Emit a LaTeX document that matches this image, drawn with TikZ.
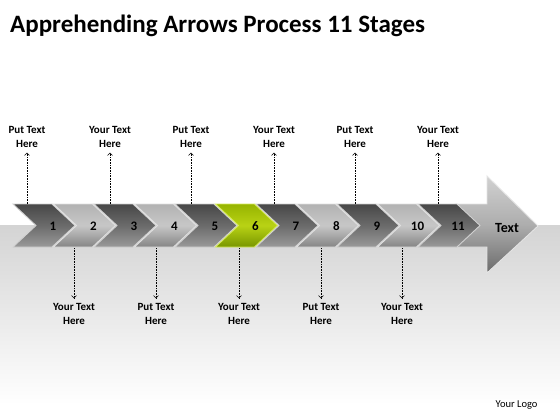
\documentclass[tikz,border=0pt]{standalone}
\usepackage{fontspec}
\setmainfont{Carlito}
\usetikzlibrary{arrows.meta, positioning}

\tikzset{
  darkchev/.style={top color=black!72, bottom color=black!40, middle color=black!58, draw=black!18, line width=0.9pt},
  lightchev/.style={top color=black!30, bottom color=black!48, middle color=black!22, draw=black!12, line width=0.9pt},
  greenchev/.style={top color={rgb,255:red,150;green,180;blue,0}, bottom color={rgb,255:red,120;green,150;blue,0}, middle color={rgb,255:red,185;green,210;blue,20}, draw={rgb,255:red,215;green,235;blue,90}, line width=0.9pt},
  num/.style={font=\bfseries\fontsize{13}{13}\selectfont, inner sep=1pt},
  lbl/.style={font=\bfseries\fontsize{11}{13.5}\selectfont, align=center, inner sep=5pt},
  callout/.style={densely dotted, line width=0.6pt, -{Straight Barb[length=2.5pt,width=5pt]}}
}

\begin{document}
\begin{tikzpicture}[x=1pt, y=-1pt]
\useasboundingbox (0,0) rectangle (560,420);
\fill[white] (0,0) rectangle (560,420);
\shade[top color=black!17, bottom color=white] (0,225) rectangle (560,405);
\node[anchor=west, font=\bfseries\fontsize{25}{25}\selectfont, inner sep=0pt] (title) at (10,26) {Apprehending Arrows Process 11 Stages};
\draw[top color=black!18, bottom color=black!58, middle color=black!32, draw=black!10, line width=0.9pt] (455,204) -- (487,204) -- (487,176) -- (538,226) -- (487,273) -- (487,247) -- (455,247) -- cycle;
\node[font=\bfseries\fontsize{14}{14}\selectfont] (arrowtxt) at (507,228) {Text};
\foreach \i/\sty in {1/darkchev,2/lightchev,3/darkchev,4/lightchev,5/darkchev,6/greenchev,7/darkchev,8/lightchev,9/darkchev,10/lightchev,11/darkchev} {
  \draw[\sty, shift={({13+(\i-1)*40.5},0)}] (0,204) -- (39,204) -- (62,225.5) -- (39,247) -- (0,247) -- (23,225.5) -- cycle;
  \node[num] (s\i) at ({53+(\i-1)*40.5},226) {\i};
}
\foreach \x/\t/\n in {27/Put/1,110/Your/3,191/Put/5,274/Your/7,355/Put/9,438/Your/11} {
  \node[lbl] (up\n) at (\x,137) {\t{} Text\\Here};
  \coordinate (cu\n) at (\x,204);
  \draw[callout] (cu\n) -- (cu\n |- up\n.south);
}
\foreach \x/\t/\n in {74/Your/2,156/Put/4,239/Your/6,321/Put/8,402/Your/10} {
  \node[lbl] (dn\n) at (\x,314) {\t{} Text\\Here};
  \coordinate (cd\n) at (\x,248);
  \draw[callout] (cd\n) -- (cd\n |- dn\n.north);
}
\node[anchor=east, font=\fontsize{10.5}{10.5}\selectfont] (logo) at (541,405) {Your Logo};
\end{tikzpicture}
\end{document}
